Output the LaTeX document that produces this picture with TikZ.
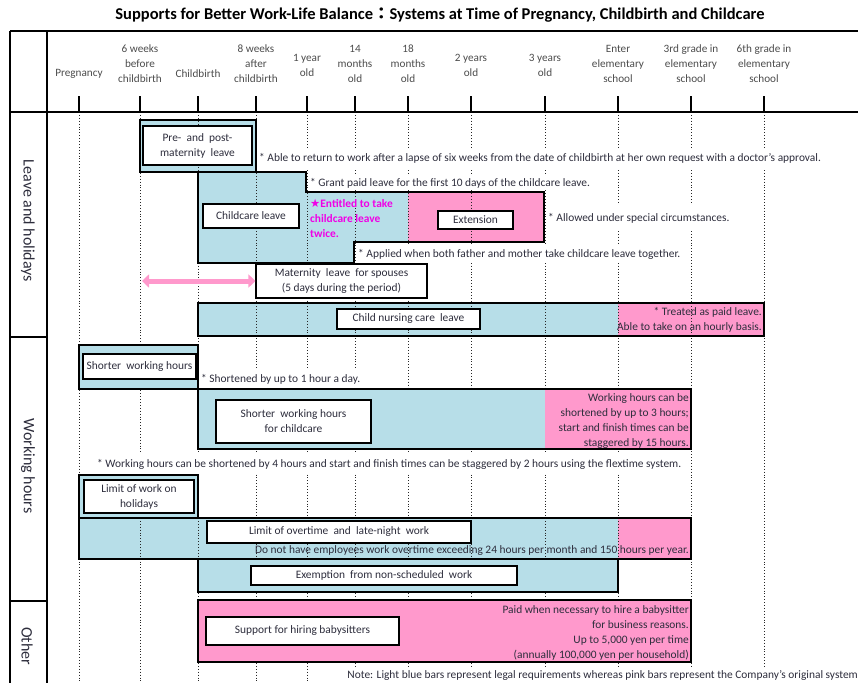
\documentclass[tikz,border=0pt]{standalone}
\usepackage{fontspec}
\setmainfont{Carlito}
\newfontfamily\cjkfont{Noto Sans CJK JP}
\newfontfamily\symbfont{DejaVu Sans}
\usetikzlibrary{arrows.meta}
\definecolor{legalblue}{RGB}{183,222,232}
\definecolor{ownpink}{RGB}{255,153,204}
\definecolor{starpink}{RGB}{240,0,230}
\definecolor{inktext}{RGB}{45,45,60}

\begin{document}
\begin{tikzpicture}[x=1pt, y=-1pt,
  frameline/.style={line width=1.2pt},
  timeline/.style={line width=0.9pt, dotted, black!85},
  barline/.style={line width=2.2pt, line join=miter},
  labelbox/.style={draw, line width=1.1pt, fill=white, inner sep=0pt, align=center, text=inktext, font=\fontsize{11.4}{15}\selectfont},
  remark/.style={fill=white, inner sep=2pt, text=inktext, font=\fontsize{11.4}{15}\selectfont},
  barnote/.style={inner sep=1pt, align=right, text=inktext, font=\fontsize{11.4}{15}\selectfont},
  headlabel/.style={align=center, text=black!70, font=\fontsize{11.2}{15}\selectfont},
  sectionlabel/.style={rotate=-90, text=inktext, font=\fontsize{16}{18}\selectfont},
  pinkarrow/.style={line width=5pt, ownpink, {Triangle[length=7pt,width=13pt]}-{Triangle[length=7pt,width=13pt]}}]
\useasboundingbox (0,0) rectangle (858,683);

\node[font=\bfseries\fontsize{16.5}{18}\selectfont] (title) at (440,15) {Supports for Better Work-Life Balance{\cjkfont ：}Systems at Time of Pregnancy, Childbirth and Childcare};

\foreach \cx/\cy/\lbl in {79/74/Pregnancy, 140/64/{6 weeks\\before\\childbirth}, 198/74/Childbirth, 256/64/{8 weeks\\after\\childbirth}, 307/65/{1 year\\old}, 355/64/{14\\months\\old}, 408/64/{18\\months\\old}, 471/65/{2 years\\old}, 545/65/{3 years\\old}, 618/64/{Enter\\elementary\\school}, 691/64/{3rd grade in\\elementary\\school}, 764/64/{6th grade in\\elementary\\school}}
  \node[headlabel] (head\cx) at (\cx,\cy) {\lbl};

\fill[legalblue] (140,120) rectangle (256,172);
\fill[legalblue] (198,172) -- (306,172) -- (306,192) -- (408,192) -- (408,242) -- (354,242) -- (354,263) -- (198,263) -- cycle;
\fill[ownpink] (408,192) rectangle (544,242);
\fill[legalblue] (198,303) rectangle (618,336);
\fill[ownpink] (618,303) rectangle (764,336);
\fill[legalblue] (79,518) rectangle (618,559);
\fill[ownpink] (618,518) rectangle (691,559);

\foreach \cx in {79,140,198,256,307,355,408,471,545,618,691,764} {
  \draw[frameline] (\cx,96) -- (\cx,112);
  \draw[timeline] (\cx,112) -- (\cx,683);
}

\fill[legalblue] (79,345) rectangle (198,389);
\fill[legalblue] (198,389) rectangle (545,449);
\fill[ownpink] (545,389) rectangle (691,449);
\fill[legalblue] (79,475) rectangle (198,518);
\fill[legalblue] (198,559) rectangle (618,592);
\fill[ownpink] (198,600) rectangle (691,662);

\node[remark, anchor=west, inner ysep=5pt] (returnnote) at (257,158) {* Able to return to work after a lapse of six weeks from the date of childbirth at her own request with a doctor’s approval.};
\node[remark, anchor=west] (paidnote) at (308,183) {* Grant paid leave for the first 10 days of the childcare leave.};
\node[remark, anchor=west, inner ysep=8pt] (specialnote) at (546,218) {* Allowed under special circumstances.};
\node[remark, anchor=west, inner ysep=4pt] (bothnote) at (356,254) {* Applied when both father and mother take childcare leave together.};
\node[remark, anchor=west, inner ysep=4pt] (hournote) at (199,379) {* Shortened by up to 1 hour a day.};
\node[remark, anchor=west, inner ysep=5pt] (flexnote) at (95,464) {* Working hours can be shortened by 4 hours and start and finish times can be staggered by 2 hours using the flextime system.};

\draw[frameline] (10,31) -- (858,31);
\draw[frameline] (10,112) -- (858,112);
\draw[frameline] (10,31) -- (10,683);
\draw[frameline] (47,31) -- (47,683);
\draw[frameline] (10,337) -- (47,337);
\draw[frameline] (10,601) -- (47,601);

\node[sectionlabel] (leavesec) at (28,221) {Leave and holidays};
\node[sectionlabel] (worksec) at (28,466) {Working hours};
\node[sectionlabel] (othersec) at (27,646) {Other};

\draw[barline] (140,120) rectangle (256,172);
\draw[barline] (198,172) -- (306,172) -- (306,192) -- (544,192) -- (544,242) -- (354,242) -- (354,263) -- (198,263) -- cycle;
\draw[barline] (198,303) rectangle (764,336);
\draw[barline] (79,345) rectangle (198,389);
\draw[barline] (198,389) rectangle (691,449);
\draw[barline] (79,475) rectangle (198,518);
\draw[barline] (79,518) rectangle (691,559);
\draw[barline] (198,559) rectangle (618,592);
\draw[barline] (198,600) rectangle (691,662);

\node[labelbox, minimum width=109, minimum height=39] (prepost) at (197.5,145.5) {Pre- \ and \ post-\\maternity \ leave};
\node[labelbox, minimum width=96, minimum height=24] (childcare) at (251,216) {Childcare leave};
\node[anchor=west, align=left, inner sep=1pt, text=starpink, font=\bfseries\fontsize{11.4}{15}\selectfont] (twice) at (309,218) {{\symbfont ★}Entitled to take\\childcare leave\\twice.};
\node[labelbox, minimum width=75, minimum height=18] (extension) at (475.5,220) {Extension};
\coordinate (spousefrom) at (142,281);
\node[labelbox, minimum width=171, minimum height=34] (spouse) at (341.5,281) {Maternity \ leave \ for spouses\\(5 days during the period)};
\draw[pinkarrow] (spousefrom) -- (spouse.west);
\node[labelbox, minimum width=143, minimum height=20] (nursing) at (408.5,319) {Child nursing care \ leave};
\node[barnote, anchor=east] (nursingnote) at (763,320) {* Treated as paid leave.\\Able to take on an hourly basis.};

\node[labelbox, minimum width=113, minimum height=25] (shorter) at (139.5,366.5) {Shorter \ working hours};
\node[labelbox, minimum width=155, minimum height=43] (shortcare) at (293.5,421.5) {Shorter \ working hours\\for childcare};
\node[barnote, anchor=east] (shortcarenote) at (690,421) {Working hours can be\\shortened by up to 3 hours;\\start and finish times can be\\staggered by 15 hours.};
\node[labelbox, minimum width=110, minimum height=33] (holiday) at (139,496.5) {Limit of work on\\holidays};
\node[labelbox, minimum width=264, minimum height=22] (overtime) at (339,532) {Limit of overtime \ and \ late-night \ work};
\node[barnote, anchor=east] (overtimenote) at (690,551) {Do not have employees work overtime exceeding 24 hours per month and 150 hours per year.};
\node[labelbox, minimum width=266, minimum height=19] (exemption) at (384,575.5) {Exemption \ from non-scheduled \ work};

\node[labelbox, minimum width=193, minimum height=28] (sitter) at (302.5,631) {Support for hiring babysitters};
\node[barnote, anchor=east] (sitternote) at (690,632.5) {Paid when necessary to hire a babysitter\\for business reasons.\\Up to 5,000 yen per time\\(annually 100,000 yen per household)};

\node[remark, anchor=east] (legend) at (860,675) {Note: Light blue bars represent legal requirements whereas pink bars represent the Company’s original system};
\end{tikzpicture}
\end{document}
